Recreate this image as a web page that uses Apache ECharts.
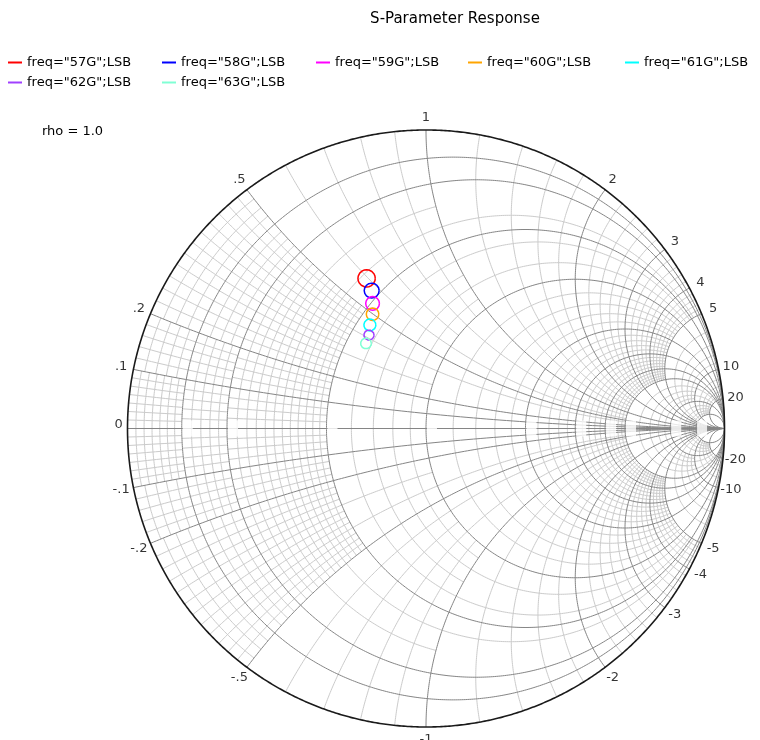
<!DOCTYPE html>
<html>
<head>
<meta charset="utf-8">
<script src="https://cdn.jsdelivr.net/npm/echarts@6/dist/echarts.min.js"></script>
<style>
  html, body { margin: 0; padding: 0; background: #ffffff; }
  #chart { width: 760px; height: 740px; }
</style>
</head>
<body>
<div id="chart"></div>
<script>
// ---- data ----
const seriesNames = ['freq="57G";LSB', 'freq="58G";LSB', 'freq="59G";LSB', 'freq="60G";LSB',
                     'freq="61G";LSB', 'freq="62G";LSB', 'freq="63G";LSB'];
const seriesColors = ['#ff0000', '#0000ff', '#ff00ff', '#ffa500', '#00ffff', '#a040ff', '#80ffd4'];
// circle traces in the reflection-coefficient plane: centre (re, im) and radius
const centerRe = [-0.199, -0.182, -0.179, -0.179, -0.188, -0.191, -0.201];
const centerIm = [0.503, 0.462, 0.419, 0.383, 0.347, 0.313, 0.285];
const circleRadius = [0.029, 0.025, 0.023, 0.021, 0.020, 0.017, 0.018];

// labelled (major) resistance / reactance values and their edge labels
const majorValues = [0.1, 0.2, 0.5, 1, 2, 3, 4, 5, 10, 20];
const posEdgeLabels = ['.1', '.2', '.5', '1', '2', '3', '4', '5', '10', '20'];
const negEdgeLabels = ['-.1', '-.2', '-.5', '-1', '-2', '-3', '-4', '-5', '-10', '-20'];

// grid bands between major values and the finest minor step used inside each band
const bandEdges = [0, 0.1, 0.2, 0.5, 1, 2, 3, 4, 5, 10, 20, Infinity];
const bandStep  = [1 / 70, 0.02, 0.025, 0.1, 0.2, 0.2, 0.2, 0.2, 1, 2, Infinity];

// legend rows: which series sit in each row, and the horizontal slot of each entry
const legendRows = [[0, 1, 2, 3, 4], [5, 6]];
const legendSlots = [3, 157, 311, 463, 620];
const legendRowTop = [51, 71];

// ---- Smith chart geometry ----
const TAU = Math.PI * 2;
function gamma(r, x) {
  if (!isFinite(r) || !isFinite(x)) return [1, 0];
  const den = (r + 1) * (r + 1) + x * x;
  return [(r * r + x * x - 1) / den, (2 * x) / den];
}
// constant-resistance circle, for reactance x1..x2 (x1 < x2)
function rCircle(r, x1, x2) {
  const c = r / (r + 1), rho = 1 / (r + 1);
  const ang = (x) => {
    if (x === Infinity) return 0;
    if (x === -Infinity) return TAU;
    const p = gamma(r, x);
    let a = Math.atan2(p[1], p[0] - c);
    if (x < 0 && a <= 0) a += TAU;
    if (x === 0) a = Math.PI;
    return a;
  };
  const a1 = ang(x2), a2 = ang(x1);
  const n = Math.max(6, Math.ceil(Math.abs(a2 - a1) * rho * 150));
  const pts = [];
  for (let i = 0; i <= n; i++) {
    const a = a1 + (a2 - a1) * i / n;
    pts.push([c + rho * Math.cos(a), rho * Math.sin(a)]);
  }
  return pts;
}
// constant-reactance arc, for resistance r1..r2
function xArc(x, r1, r2) {
  const cy = 1 / x, rad = 1 / Math.abs(x);
  const p1 = gamma(r1, x), p2 = gamma(r2, x);
  const a1 = Math.atan2(p1[1] - cy, p1[0] - 1);
  let d = Math.atan2(p2[1] - cy, p2[0] - 1) - a1;
  while (d > Math.PI) d -= TAU;
  while (d <= -Math.PI) d += TAU;
  const n = Math.max(6, Math.ceil(Math.abs(d) * Math.min(rad, 3) * 150));
  const pts = [];
  for (let i = 0; i <= n; i++) {
    const a = a1 + d * i / n;
    pts.push([1 + rad * Math.cos(a), cy + rad * Math.sin(a)]);
  }
  return pts;
}
// multiples of step strictly inside (lo, hi)
function stepsInside(lo, hi, step) {
  const out = [];
  if (!isFinite(step)) return out;
  const m0 = Math.floor(lo / step + 1e-9) + 1;
  for (let m = m0; ; m++) {
    const v = m * step;
    if (v >= hi - 1e-9) break;
    out.push(v);
  }
  return out;
}

// grid lines: {pts, kind}
const gridLines = [];
const nb = bandEdges.length - 1;
for (let i = 0; i < nb; i++) {          // resistance band
  for (let j = 0; j < nb; j++) {        // reactance band
    const step = Math.max(bandStep[i], bandStep[j]);
    const r0 = bandEdges[i], r1 = bandEdges[i + 1];
    const x0 = bandEdges[j], x1 = bandEdges[j + 1];
    stepsInside(r0, r1, step).forEach((r) => {
      gridLines.push({ pts: rCircle(r, x0, x1), kind: 'minor' });
      gridLines.push({ pts: rCircle(r, -x1, -x0), kind: 'minor' });
    });
    stepsInside(x0, x1, step).forEach((x) => {
      gridLines.push({ pts: xArc(x, r0, r1), kind: 'minor' });
      gridLines.push({ pts: xArc(-x, r0, r1), kind: 'minor' });
    });
  }
}
majorValues.forEach((v) => {
  gridLines.push({ pts: rCircle(v, -Infinity, Infinity), kind: 'major' });
  gridLines.push({ pts: xArc(v, 0, Infinity), kind: 'major' });
  gridLines.push({ pts: xArc(-v, 0, Infinity), kind: 'major' });
});
gridLines.push({ pts: [[-1, 0], [1, 0]], kind: 'major' });
gridLines.push({ pts: rCircle(0, -Infinity, Infinity), kind: 'outer' });

const lineStyles = {
  minor: { stroke: '#cbcbcb', lineWidth: 1 },
  major: { stroke: '#858585', lineWidth: 1 },
  outer: { stroke: '#1a1a1a', lineWidth: 1.6 }
};

// blank label boxes where the resistance circles cross the real axis
const axisBoxData = majorValues.map((v) => [(v - 1) / (v + 1), 0]);

// edge labels placed just outside the unit circle
const LABEL_OUT = 1.042;
const edgeLabelData = [{ value: [-1.03, 0.012], name: '0' }];
majorValues.forEach((v, i) => {
  const p = gamma(0, v), q = gamma(0, -v);
  edgeLabelData.push({ value: [p[0] * LABEL_OUT, p[1] * LABEL_OUT], name: posEdgeLabels[i] });
  edgeLabelData.push({ value: [q[0] * LABEL_OUT, q[1] * LABEL_OUT], name: negEdgeLabels[i] });
});

const FONT = 'DejaVu Sans';
const traceSeries = seriesNames.map((name, i) => {
  const pts = [];
  const n = 48;
  for (let k = 0; k <= n; k++) {
    const a = TAU * k / n;
    pts.push([centerRe[i] + circleRadius[i] * Math.cos(a), centerIm[i] + circleRadius[i] * Math.sin(a)]);
  }
  return {
    name: name,
    type: 'line',
    data: pts,
    symbol: 'none',
    color: seriesColors[i],
    lineStyle: { width: 1.5, color: seriesColors[i] },
    z: 5,
    silent: true,
    clip: false
  };
});

// one legend component per entry so that every entry sits in a fixed slot
const legends = [];
legendRows.forEach((row, ri) => {
  row.forEach((si, k) => {
    legends.push({
      orient: 'horizontal',
      left: legendSlots[k],
      top: legendRowTop[ri],
      data: [seriesNames[si]],
      itemWidth: 14,
      itemHeight: 10,
      itemGap: 0,
      icon: 'path://M0,4h14v2h-14z',
      textStyle: { fontFamily: FONT, fontSize: 13, color: '#000' },
      selectedMode: false
    });
  });
});

const chart = echarts.init(document.getElementById('chart'), null, { renderer: 'canvas' });
chart.setOption({
  animation: false,
  backgroundColor: '#ffffff',
  title: [
    { text: 'S-Parameter Response', left: 450, top: 7, textAlign: 'center',
      textStyle: { fontFamily: FONT, fontSize: 15, fontWeight: 'normal', color: '#000' } },
    { text: 'rho = 1.0', left: 37, top: 120,
      textStyle: { fontFamily: FONT, fontSize: 13, fontWeight: 'normal', color: '#000' } }
  ],
  legend: legends,
  grid: { left: 127.5, top: 130, width: 597, height: 597, outerBoundsMode: 'none', containLabel: false },
  xAxis: { type: 'value', min: -1, max: 1, show: false },
  yAxis: { type: 'value', min: -1, max: 1, show: false },
  series: [
    {
      type: 'custom',
      name: 'grid',
      coordinateSystem: 'cartesian2d',
      data: gridLines.map((l, i) => [0, 0, i]),
      silent: true,
      z: 1,
      clip: false,
      renderItem: function (params, api) {
        const l = gridLines[params.dataIndex];
        return {
          type: 'polyline',
          shape: { points: l.pts.map((p) => api.coord(p)) },
          style: Object.assign({ fill: null }, lineStyles[l.kind]),
          silent: true
        };
      }
    },
    {
      type: 'scatter',
      name: 'axis boxes',
      data: axisBoxData,
      symbol: 'rect',
      symbolSize: [10, 16],
      symbolOffset: [6, 0],
      itemStyle: { color: '#ffffff' },
      silent: true,
      clip: false,
      z: 2
    },
    {
      type: 'scatter',
      name: 'edge labels',
      data: edgeLabelData,
      symbolSize: 0,
      silent: true,
      clip: false,
      z: 6,
      label: {
        show: true,
        position: 'inside',
        formatter: '{b}',
        fontFamily: FONT,
        fontSize: 13,
        color: '#000'
      }
    }
  ].concat(traceSeries)
});
</script>
</body>
</html>
